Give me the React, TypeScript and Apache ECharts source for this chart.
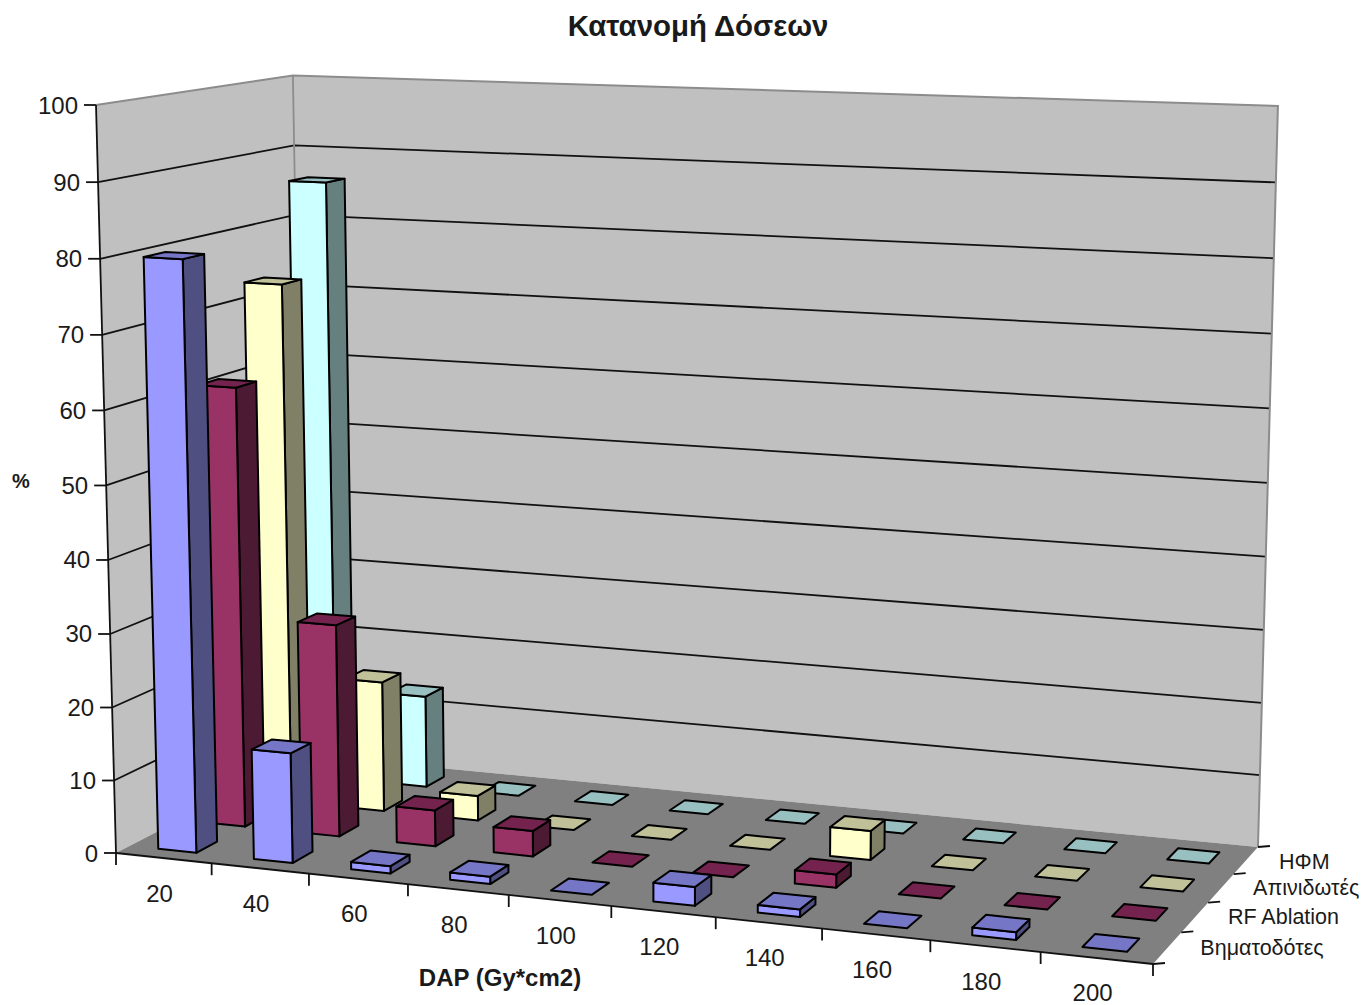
import React, { useEffect, useRef } from "react";
import * as echarts from "echarts";

const categories = ["20", "40", "60", "80", "100", "120", "140", "160", "180", "200"];
const depthLabels = ["Βηματοδότες", "RF Ablation", "Απινιδωτές", "ΗΦΜ"];
const yTicks = [0, 10, 20, 30, 40, 50, 60, 70, 80, 90, 100];

const pacemakers = [80, 15, 1, 1, 0, 2.5, 1, 0, 1, 0];
const rfAblation = [61, 29.4, 5, 3.5, 0, 0, 1.8, 0, 0, 0];
const defibrillators = [73.3, 18.4, 3.5, 0, 0, 0, 4, 0, 0, 0];
const hfm = [86, 13.2, 0, 0, 0, 0, 0, 0, 0, 0];

const palettes = [
  { front: "#9999FF", side: "#4F4F81", top: "#7676C6" },
  { front: "#993366", side: "#4D1A33", top: "#73234D" },
  { front: "#FFFFCC", side: "#808066", top: "#C0C099" },
  { front: "#CCFFFF", side: "#668080", top: "#99C0C0" },
];
const seriesValues = [pacemakers, rfAblation, defibrillators, hfm];

// Projective camera of the 3D box: O front-left floor, X front-right floor, Y back-left floor, Z front-left top
const O = [116, 853];
const X = [1153, 964];
const Y = [305, 755];
const Z = [96, 105];
const P = 0.9144;
const Q = 1.0976;
const R = 0.966;
function project(u: number, v: number, z: number): number[] {
  const w = 1 + (P - 1) * u + (Q - 1) * v + (R - 1) * z;
  const pt = [0, 1].map(
    (k) => (O[k] + u * (P * X[k] - O[k]) + v * (Q * Y[k] - O[k]) + z * (R * Z[k] - O[k])) / w
  );
  // small residual correction of the rear wall's slope
  pt[1] += z * v * (3 - 5 * u);
  return pt;
}

const W = 1362;
const H = 1005;
const FONT = "'Liberation Sans', Arial, sans-serif";
const INK = "#1a1a1a";
const WALL = "#C0C0C0";
const FLOOR = "#808080";
const EDGE = "#8c8c8c";
const LW = 1.8;

function line(a: number[], b: number[], stroke: string, lineWidth = LW) {
  return { type: "line", shape: { x1: a[0], y1: a[1], x2: b[0], y2: b[1] }, style: { stroke, lineWidth } };
}
function text(x: number, y: number, t: string, font: string, align = "center") {
  return {
    type: "text",
    x,
    y,
    style: { text: t, font, fill: INK, textAlign: align, textVerticalAlign: "middle" },
  };
}

function frame() {
  const els: any[] = [];
  const poly = (pts: number[][], fill: string) => ({ type: "polygon", shape: { points: pts }, style: { fill, stroke: "none" } });
  els.push(poly([project(0, 0, 0), project(0, 1, 0), project(0, 1, 1), project(0, 0, 1)], WALL));
  els.push(poly([project(0, 1, 0), project(1, 1, 0), project(1, 1, 1), project(0, 1, 1)], WALL));
  els.push(poly([project(0, 0, 0), project(1, 0, 0), project(1, 1, 0), project(0, 1, 0)], FLOOR));

  yTicks.forEach((t) => {
    const z = t / 100;
    if (t > 0 && t < 100) {
      els.push({
        type: "polyline",
        shape: { points: [project(0, 0, z), project(0, 1, z), project(1, 1, z)] },
        style: { stroke: "#111", lineWidth: LW, fill: "none" },
      });
    }
    const a = project(0, 0, z);
    els.push(line([a[0] - 12, a[1]], a, "#111"));
    els.push(text(a[0] - 18, a[1], String(t), `24px ${FONT}`, "right"));
  });

  els.push({
    type: "polyline",
    shape: { points: [project(0, 0, 1), project(0, 1, 1), project(1, 1, 1), project(1, 1, 0)] },
    style: { stroke: EDGE, lineWidth: LW + 0.2, fill: "none" },
  });
  els.push(line(project(0, 1, 0.78), project(0, 1, 1), EDGE, LW));
  els.push(line(project(0, 0, 0), project(0, 0, 1), "#111"));
  els.push(line(project(0, 0, 0), project(1, 0, 0), "#111"));

  categories.forEach((c, i) => {
    const edge = project((i + 1) / categories.length, 0, 0);
    els.push(line(edge, [edge[0], edge[1] + 12], "#111"));
    const mid = project((i + 0.5) / categories.length, 0, 0);
    els.push(text(mid[0] - 4, mid[1] + 35, c, `24px ${FONT}`));
  });
  const o = project(0, 0, 0);
  els.push(line(o, [o[0], o[1] + 12], "#111"));

  for (let j = 0; j <= depthLabels.length; j++) {
    const e = project(1, j / depthLabels.length, 0);
    els.push(line(e, [e[0] + 12, e[1] - 1], "#111"));
  }
  depthLabels.forEach((d, j) => {
    const e = project(1, (j + 0.5) / depthLabels.length, 0);
    els.push(text(e[0] + (j === 2 ? 32 : 33), e[1] + (j === 3 ? 2 : 0), d, `21.5px ${FONT}`, "left"));
  });

  els.push(text(500, 977, "DAP (Gy*cm2)", `bold 24px ${FONT}`));
  els.push(text(21, 481, "%", `bold 20px ${FONT}`));
  return els;
}

const BAR_U = [0.3, 0.7];
const BAR_V = [0.27, 0.69];

function makeRender(j: number) {
  const pal = palettes[j];
  return (_p: any, api: any) => {
    const idx = api.value(0);
    const val = api.value(1);
    const c = api.coord([idx, val]);
    const band = api.size([1, 0])[0];
    const left = (c[0] - band / 2) / W;
    const u0 = left + (BAR_U[0] * band) / W;
    const u1 = left + (BAR_U[1] * band) / W;
    const v0 = (j + BAR_V[0]) / depthLabels.length;
    const v1 = (j + BAR_V[1]) / depthLabels.length;
    const z = 1 - c[1] / H;
    const st = (fill: string) => ({ fill, stroke: "#000", lineWidth: 2, lineJoin: "round" });
    const children: any[] = [];
    if (z > 0) {
      children.push({
        type: "polygon",
        shape: { points: [project(u1, v0, 0), project(u1, v1, 0), project(u1, v1, z), project(u1, v0, z)] },
        style: st(pal.side),
      });
      children.push({
        type: "polygon",
        shape: { points: [project(u0, v0, 0), project(u1, v0, 0), project(u1, v0, z), project(u0, v0, z)] },
        style: st(pal.front),
      });
    }
    children.push({
      type: "polygon",
      shape: { points: [project(u0, v0, z), project(u1, v0, z), project(u1, v1, z), project(u0, v1, z)] },
      style: st(pal.top),
    });
    return { type: "group", children };
  };
}

export default function App() {
  const ref = useRef<HTMLDivElement>(null);
  useEffect(() => {
    const chart = echarts.init(ref.current!, undefined, { renderer: "svg" });
    const order = [3, 2, 1, 0];
    chart.setOption({
      animation: false,
      backgroundColor: "#fff",
      title: {
        text: "Κατανομή Δόσεων",
        left: 693,
        top: 6,
        textAlign: "center",
        textStyle: { fontFamily: FONT, fontWeight: "bold", fontSize: 29.4, color: INK },
      },
      grid: { left: 0, top: 0, right: 0, bottom: 0 },
      xAxis: { type: "category", data: categories, show: false },
      yAxis: { type: "value", min: 0, max: 100, interval: 10, show: false },
      graphic: { elements: frame() },
      series: order.map((j) => ({
        type: "custom",
        name: depthLabels[j],
        clip: false,
        silent: true,
        renderItem: makeRender(j),
        data: seriesValues[j].map((v, i) => [i, v]),
      })),
    });
    return () => chart.dispose();
  }, []);
  return <div ref={ref} style={{ position: "absolute", left: 0, top: 0, width: W, height: H }} />;
}
